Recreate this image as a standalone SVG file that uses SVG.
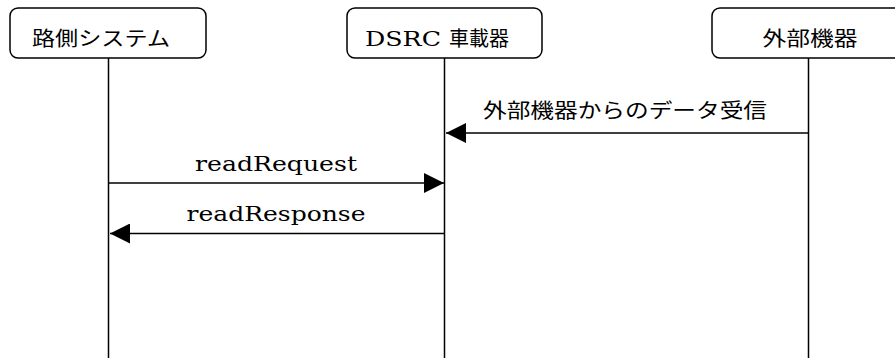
<svg xmlns="http://www.w3.org/2000/svg" width="895" height="358" viewBox="0 0 895 358">
<style>
.box{fill:#fff;stroke:#000;stroke-width:1.5}
.life{stroke:#000;stroke-width:1.5}
.msg{stroke:#000;stroke-width:1.3;fill:none}
.jp{font-family:"Noto Sans CJK JP","Noto Sans",sans-serif;font-size:20px;fill:#000}
.lat{font-family:"DejaVu Serif","Liberation Serif",serif;font-size:21px;fill:#000}
</style>
<defs>
<marker id="ah" markerWidth="20" markerHeight="20" viewBox="0 0 20 20" refX="20" refY="10" orient="auto" markerUnits="userSpaceOnUse">
<path d="M0,0 L20,10 L0,20 Z" fill="#000"/>
</marker>
</defs>
<g id="lifelines">
<line class="life" x1="108.5" y1="58" x2="108.5" y2="358"/>
<line class="life" x1="444.5" y1="58" x2="444.5" y2="358"/>
<line class="life" x1="808.5" y1="58" x2="808.5" y2="358"/>
</g>
<g id="node-roadside">
<rect class="box" x="10" y="8" width="196" height="50" rx="8"/>
<text class="jp" x="101" y="46" text-anchor="middle" textLength="138" lengthAdjust="spacingAndGlyphs">路側システム</text>
</g>
<g id="node-dsrc">
<rect class="box" x="347" y="8" width="195" height="50" rx="8"/>
<text x="437" y="46" text-anchor="middle"><tspan class="lat" textLength="76" lengthAdjust="spacingAndGlyphs">DSRC</tspan><tspan class="jp" dx="8">車載器</tspan></text>
</g>
<g id="node-external">
<rect class="box" x="712" y="8" width="196" height="50" rx="8"/>
<text class="jp" x="810" y="46" text-anchor="middle" textLength="95" lengthAdjust="spacingAndGlyphs">外部機器</text>
</g>
<g id="connectors">
<line class="msg" x1="808" y1="133" x2="446" y2="133" marker-end="url(#ah)"/>
<text class="jp" x="625" y="118" text-anchor="middle" textLength="284" lengthAdjust="spacingAndGlyphs">外部機器からのデータ受信</text>
<line class="msg" x1="109" y1="183" x2="444" y2="183" marker-end="url(#ah)"/>
<text class="lat" x="276" y="171" text-anchor="middle" textLength="162" lengthAdjust="spacingAndGlyphs">readRequest</text>
<line class="msg" x1="444" y1="233.5" x2="110" y2="233.5" marker-end="url(#ah)"/>
<text class="lat" x="276" y="221" text-anchor="middle" textLength="179" lengthAdjust="spacingAndGlyphs">readResponse</text>
</g>
</svg>
